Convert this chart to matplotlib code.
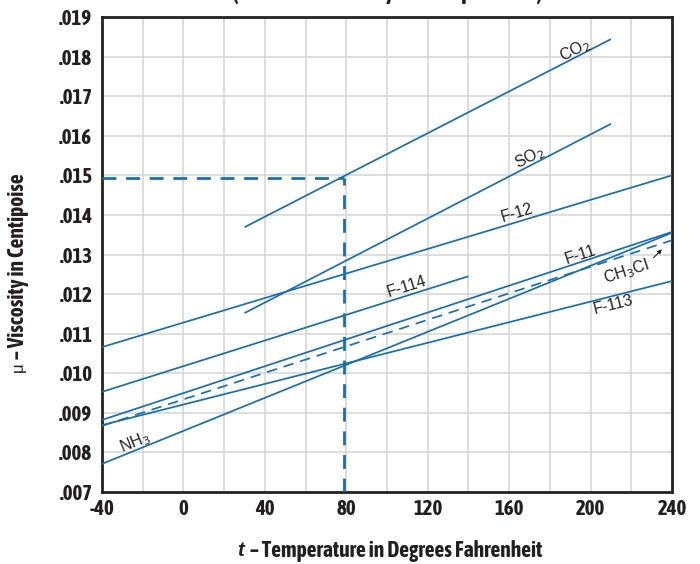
import matplotlib
matplotlib.use("Agg")
import matplotlib.pyplot as plt
from matplotlib import font_manager as fm
import numpy as np

# ---- data ----
co2_t = [30, 210];   co2_mu = [0.01369, 0.01844]
so2_t = [30, 210];   so2_mu = [0.01152, 0.01630]
f12_t = [-40, 240];  f12_mu = [0.01066, 0.01500]
f114_t = [-40, 140]; f114_mu = [0.00953, 0.01245]
f11_t = [-40, 240];  f11_mu = [0.00882, 0.01357]
ch3cl_t = [-40, 240]; ch3cl_mu = [0.00867, 0.01336]
f113_t = [-40, 240]; f113_mu = [0.00869, 0.01233]
nh3_t = [-40, 240];  nh3_mu = [0.00771, 0.01355]

ref_t = 79
ref_mu = 0.01493

x_ticks = [-40, 0, 40, 80, 120, 160, 200, 240]
x_ticklabels = ["-40", "0", "40", "80", "120", "160", "200", "240"]
y_ticks = [0.007, 0.008, 0.009, 0.010, 0.011, 0.012, 0.013, 0.014, 0.015,
           0.016, 0.017, 0.018, 0.019]
y_ticklabels = [".007", ".008", ".009", ".010", ".011", ".012", ".013", ".014",
                ".015", ".016", ".017", ".018", ".019"]

BLUE = "#1670b0"
TXT = "#231f20"
REG = ["Liberation Sans", "DejaVu Sans"]


def _wt(w):
    if isinstance(w, (int, float)):
        return w
    return {"bold": 700, "heavy": 800, "black": 900, "semibold": 600,
            "demibold": 600, "extra bold": 800}.get(str(w).lower(), 400)


def _is_cond(f):
    s = f.stretch
    if isinstance(s, (int, float)):
        if s < 500:
            return True
    elif str(s).lower() in ("condensed", "semi-condensed", "extra-condensed",
                            "ultra-condensed", "narrower"):
        return True
    return ("Narrow" in f.name) or ("Condensed" in f.name) or \
           ("Condensed" in f.fname) or ("Narrow" in f.fname)


cands = [f for f in fm.fontManager.ttflist if _is_cond(f) and f.style == "normal"]
cands.sort(key=lambda f: (abs(_wt(f.weight) - 700), f.name))
if cands:
    COND_FILE = cands[0].fname
    def cprops(size):
        return fm.FontProperties(fname=COND_FILE, size=size)
    TICK_SIZE = 15
    LAB_SIZE = 15.5
else:
    def cprops(size):
        return fm.FontProperties(family=["Liberation Sans", "DejaVu Sans"],
                                 weight="bold", size=size)
    TICK_SIZE = 12
    LAB_SIZE = 12.5

fig = plt.figure(figsize=(7.0, 5.64), dpi=100)
ax = fig.add_axes([102/700, 72/564, 570/700, 475/564])

ax.set_xlim(-40, 240)
ax.set_ylim(0.007, 0.019)
ax.set_xticks(np.arange(-40, 241, 20), minor=True)
ax.set_xticks(x_ticks)
ax.set_xticklabels(x_ticklabels)
ax.set_yticks(y_ticks)
ax.set_yticklabels(y_ticklabels)
ax.grid(True, which="both", color="#d4d4d4", linewidth=1.1, zorder=0)
ax.set_axisbelow(True)
ax.tick_params(which="both", length=0)
ax.tick_params(axis="x", pad=5)
ax.tick_params(axis="y", pad=7)
for lab in ax.get_xticklabels() + ax.get_yticklabels():
    lab.set_fontproperties(cprops(TICK_SIZE))
    lab.set_color(TXT)
for s in ax.spines.values():
    s.set_linewidth(2.0)
    s.set_color("#222222")

lw = 1.25
for t, mu in [(co2_t, co2_mu), (so2_t, so2_mu), (f12_t, f12_mu), (f114_t, f114_mu),
              (f11_t, f11_mu), (f113_t, f113_mu), (nh3_t, nh3_mu)]:
    ax.plot(t, mu, color=BLUE, lw=lw, solid_capstyle="butt", zorder=3)
ax.plot(ch3cl_t, ch3cl_mu, color=BLUE, lw=lw, ls=(0, (6, 4)), zorder=3)

# reference dashed lines
ax.plot([-40, ref_t], [ref_mu, ref_mu], color=BLUE, lw=2.0, ls=(0, (5, 3.5)), zorder=3)
ax.plot([ref_t, ref_t], [0.007, ref_mu], color=BLUE, lw=2.0, ls=(0, (5, 3.5)), zorder=3)

lab_kw = dict(family=REG, fontsize=11.5, color=TXT, ha="center", va="center", zorder=5)
ax.text(192.3, 0.01816, "CO$_2$", rotation=27, **lab_kw)
ax.text(170.2, 0.01546, "SO$_2$", rotation=27, **lab_kw)
ax.text(163.8, 0.01405, "F-12", rotation=17, **lab_kw)
ax.text(109.8, 0.01218, "F-114", rotation=17.5, **lab_kw)
ax.text(194.8, 0.01298, "F-11", rotation=18, **lab_kw)
ax.text(217.5, 0.01256, "CH$_3$Cl", rotation=18, **lab_kw)
ax.text(211.0, 0.01172, "F-113", rotation=14, **lab_kw)
ax.text(-23.8, 0.00824, "NH$_3$", rotation=22, **lab_kw)
ax.annotate("", xy=(236.0, 0.01318), xytext=(230.0, 0.01287),
            arrowprops=dict(arrowstyle="-|>", color=TXT, lw=0.8,
                            mutation_scale=6), zorder=5)

# x axis label: italic "t" followed by the rest
xl_rest = fig.text(396/700, 1 - 551/564, "– Temperature in Degrees Fahrenheit",
                   fontproperties=cprops(LAB_SIZE), color=TXT, ha="center", va="center")
fig.canvas.draw()
ax.annotate("t ", xy=(0, 0.5), xycoords=xl_rest, ha="right", va="center",
            family=REG, fontweight="bold", fontstyle="italic", fontsize=LAB_SIZE - 1,
            color=TXT, annotation_clip=False)

# y axis label: regular mu followed by bold text
mu_t = fig.text(18/700, 1 - 367/564, "μ", family=REG, fontsize=12, color=TXT,
                rotation=90, ha="center", va="center")
fig.canvas.draw()
ax.annotate(" – Viscosity in Centipoise", xy=(0.5, 1.0), xycoords=mu_t,
            ha="center", va="bottom", rotation=90, fontproperties=cprops(LAB_SIZE),
            color=TXT, annotation_clip=False)

# title cut off at the top of the image (only the descenders show)
fig.text(387/700, 1.0 + 1/564, "(Absolute Viscosity vs. Temperature)",
         fontproperties=cprops(17), color=TXT, ha="center", va="baseline")

fig.savefig("out.png", dpi=100)
